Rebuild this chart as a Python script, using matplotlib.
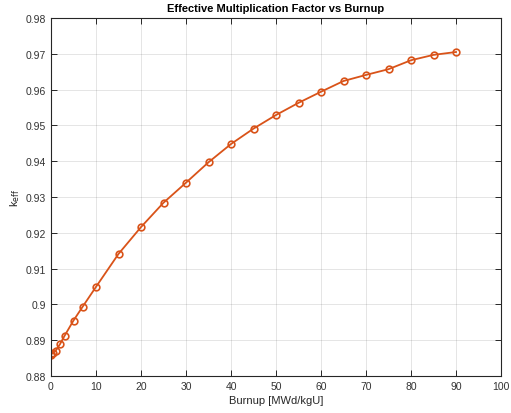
import matplotlib
matplotlib.use("Agg")
import matplotlib.pyplot as plt
from matplotlib.ticker import FuncFormatter, MultipleLocator

burnup = [0, 0.1, 0.5, 1, 2, 3, 5, 7, 10, 15, 20, 25, 30, 35, 40, 45, 50, 55, 60, 65, 70, 75, 80, 85, 90]
keff = [0.8858, 0.8861, 0.8865, 0.8870, 0.8889, 0.8912, 0.8955, 0.8993, 0.9049, 0.9141, 0.9216,
        0.9284, 0.9340, 0.9397, 0.9448, 0.9491, 0.9529, 0.9563, 0.9594, 0.9624, 0.9641, 0.9657,
        0.9682, 0.9697, 0.9705]

title = "Effective Multiplication Factor vs Burnup"
xlabel = "Burnup [MWd/kgU]"
ylabel = "k$_{\\rm eff}$"

plt.rcParams['font.family'] = ['Liberation Sans', 'DejaVu Sans']
fig = plt.figure(figsize=(5.11, 4.14), dpi=100)
ax = fig.add_axes([51/511, 1-377/414, 450/511, 358/414])

ax.plot(burnup, keff, color='#D95319', lw=1.3, marker='o', ms=4.8, mfc='none', mew=1.2)

ax.set_xlim(0, 100)
ax.set_ylim(0.88, 0.98)
ax.xaxis.set_major_locator(MultipleLocator(10))
ax.yaxis.set_major_locator(MultipleLocator(0.01))
ax.yaxis.set_major_formatter(FuncFormatter(lambda v, p: f"{round(v, 4):g}"))
ax.grid(True, color='#262626', alpha=0.12, lw=0.7)
ax.set_axisbelow(True)
for s in ax.spines.values():
    s.set_color('#262626')
    s.set_linewidth(0.8)
ax.tick_params(direction='in', length=4, width=0.7, colors='#262626', labelsize=7.5,
               top=True, right=True, labelcolor='#333333')
ax.set_title(title, fontsize=8, fontweight='bold', color='black', pad=5)
ax.set_xlabel(xlabel, fontsize=8, color='#262626', labelpad=3)
ax.set_ylabel(ylabel, fontsize=8, color='#262626', labelpad=3)

fig.savefig("out.png", dpi=100)
